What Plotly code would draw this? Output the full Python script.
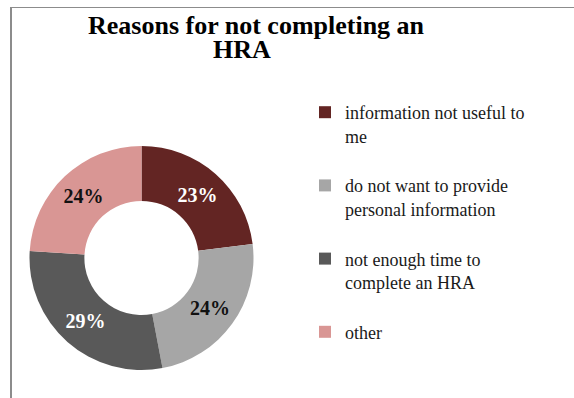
import textwrap
import plotly.graph_objects as go

categories = [
    "information not useful to me",
    "do not want to provide personal information",
    "not enough time to complete an HRA",
    "other",
]
values = [23, 24, 29, 24]
colors = ["#632523", "#A6A6A6", "#595959", "#D99694"]
text_colors = ["#ffffff", "#111111", "#ffffff", "#111111"]
title_lines = ["Reasons for not completing an", "HRA"]

W, H = 574, 398
SERIF = "Liberation Serif, Times New Roman, serif"

legend_labels = ["<br>".join(textwrap.wrap(c, width=25)) + "<br> " for c in categories]

fig = go.Figure()
fig.add_trace(go.Pie(
    labels=legend_labels,
    values=values,
    hole=0.51,
    sort=False,
    direction="clockwise",
    rotation=0,
    marker=dict(colors=colors, line=dict(width=0)),
    texttemplate="<b>%{percent:.0%}</b>",
    textposition="inside",
    insidetextorientation="horizontal",
    textfont=dict(family=SERIF, size=20, color=text_colors),
    domain=dict(x=[29 / W, 254 / W], y=[1 - 370 / H, 1 - 146 / H]),
    hoverinfo="label+percent",
))

fig.update_layout(
    width=W, height=H,
    margin=dict(l=0, r=0, t=0, b=0, autoexpand=False),
    paper_bgcolor="white",
    plot_bgcolor="white",
    showlegend=True,
    legend=dict(
        xref="paper", yref="paper",
        x=305 / W, y=1 - 94 / H, xanchor="left", yanchor="top",
        valign="top",
        font=dict(family=SERIF, size=18, color="#1a1a1a"),
        bgcolor="rgba(0,0,0,0)",
        itemclick=False, itemdoubleclick=False,
    ),
    shapes=[
        dict(type="line", xref="paper", yref="paper", x0=11 / W, x1=11 / W, y0=0, y1=1 - 7 / H,
             line=dict(color="#8c8c8c", width=2)),
        dict(type="line", xref="paper", yref="paper", x0=10 / W, x1=1, y0=1 - 7.5 / H, y1=1 - 7.5 / H,
             line=dict(color="#8c8c8c", width=1)),
    ],
    annotations=[
        dict(text="<b>%s</b>" % title_lines[0], xref="paper", yref="paper", x=256 / W, y=1 - 26 / H,
             xanchor="center", yanchor="middle", showarrow=False,
             font=dict(family=SERIF, size=26, color="#000000")),
        dict(text="<b>%s</b>" % title_lines[1], xref="paper", yref="paper", x=242 / W, y=1 - 49 / H,
             xanchor="center", yanchor="middle", showarrow=False,
             font=dict(family=SERIF, size=26, color="#000000")),
    ],
)

fig.write_html("out.html")
